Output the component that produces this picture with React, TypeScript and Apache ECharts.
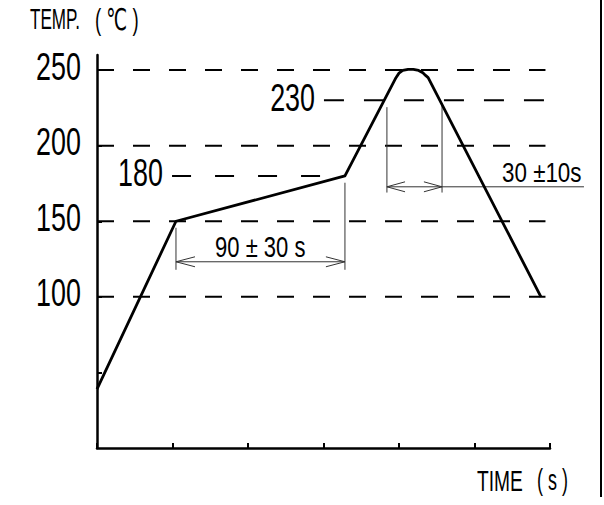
import React, { useEffect, useRef } from "react";
import * as echarts from "echarts";

// ---- data ----
const xTicks = [0, 50, 100, 150, 200, 250, 300];
const yTickValues = [50, 100, 150, 200, 250];
const yTickLabels = [100, 150, 200, 250];

// reflow profile: [time, temperature]
const profile: [number, number][] = [
  [0, 39],
  [52.3, 150],
  [164.2, 180],
  [198, 245],
  [200, 248],
  [202.5, 249.8],
  [206, 250.5],
  [209.5, 250.5],
  [213, 249.8],
  [215.8, 248.2],
  [217.6, 246.5],
  [219.3, 245],
  [294, 100],
];

// dashed reference levels: [temperature, from time, to time]
const mainLevels: [number, number, number][] = [
  [250, 0, 297],
  [200, 0, 297],
  [150, 0, 297],
  [100, 0, 297],
];
const level180: [number, number, number] = [180, 49.7, 164.2];
const level230: [number, number, number] = [230, 150.3, 297];
const levelLabels: [number, number][] = [
  [180, 43.7], // [temperature, right edge time]
  [230, 144.4],
];

// dimension 90 ± 30 s
const dim90Left: [number, number][] = [[52.3, 145.7], [52.3, 117.9]];
const dim90Right: [number, number][] = [[164.2, 175.5], [164.2, 117.9]];
const dim90Arrow: [number, number][] = [[52.3, 123.2], [164.2, 123.2]];
const dim90HeadL: [number, number][] = [[64.9, 126.5], [52.3, 123.2], [64.9, 119.9]];
const dim90HeadR: [number, number][] = [[151.6, 126.5], [164.2, 123.2], [151.6, 119.9]];

// dimension 30 ± 10 s
const dim30Left: [number, number][] = [[192, 225.5], [192, 169]];
const dim30Right: [number, number][] = [[228.5, 228], [228.5, 169]];
const dim30Arrow: [number, number][] = [[192, 172.8], [228.5, 172.8]];
const dim30Extension: [number, number][] = [[228.5, 172.8], [322.5, 172.8]];
const dim30HeadL: [number, number][] = [[204, 176.1], [192, 172.8], [204, 169.5]];
const dim30HeadR: [number, number][] = [[216.5, 176.1], [228.5, 172.8], [216.5, 169.5]];

const FONT = "'Liberation Sans', 'DejaVu Sans', sans-serif";

export default function App() {
  const ref = useRef<HTMLDivElement>(null);
  useEffect(() => {
    if (!ref.current) return;
    const chart = echarts.init(ref.current, null, { renderer: "svg" });

    const thin = (data: [number, number][]) => ({
      type: "line",
      data,
      symbol: "none",
      clip: false,
      silent: true,
      lineStyle: { color: "#333", width: 1 },
      z: 3,
    });
    const dashed = (lv: [number, number, number], dash: number[]) => ({
      type: "line",
      data: [
        [lv[1], lv[0]],
        [lv[2], lv[0]],
      ],
      symbol: "none",
      clip: false,
      silent: true,
      lineStyle: { color: "#000", width: 2, type: dash },
      z: 2,
    });

    const textEl = (
      text: string,
      x: number,
      y: number,
      size: number,
      align: string,
      scaleX = 1
    ) => ({
      type: "text",
      x,
      y,
      scaleX,
      silent: true,
      style: {
        text,
        fontFamily: FONT,
        fontSize: size,
        fill: "#000",
        align,
        verticalAlign: "middle",
      },
    });

    chart.setOption({
      animation: false,
      backgroundColor: "#fff",
      grid: { left: 97, right: 54, top: 55, bottom: 57, outerBoundsMode: "none" },
      xAxis: {
        type: "value",
        min: xTicks[0],
        max: xTicks[xTicks.length - 1],
        interval: 50,
        axisLine: { lineStyle: { color: "#000", width: 2.5 } },
        axisTick: { inside: true, length: 5, lineStyle: { color: "#000", width: 2 } },
        axisLabel: { show: false },
        splitLine: { show: false },
      },
      yAxis: {
        type: "value",
        min: 0,
        max: 260,
        interval: 50,
        axisLine: { show: true, lineStyle: { color: "#000", width: 2.5 } },
        axisTick: {
          show: true,
          inside: true,
          length: 5,
          customValues: yTickValues,
          lineStyle: { color: "#000", width: 2 },
        },
        axisLabel: { show: false },
        splitLine: { show: false },
      },
      series: [
        ...mainLevels.map((lv) => dashed(lv, [17, 19])),
        dashed(level180, [19, 24]),
        dashed(level230, [20, 20]),
        thin(dim90Left),
        thin(dim90Right),
        thin(dim90Arrow),
        thin(dim90HeadL),
        thin(dim90HeadR),
        thin(dim30Left),
        thin(dim30Right),
        thin(dim30Arrow),
        thin(dim30HeadL),
        thin(dim30HeadR),
        {
          type: "line",
          data: profile,
          symbol: "none",
          clip: false,
          silent: true,
          lineStyle: { color: "#000", width: 2.8, join: "round" },
          z: 5,
        },
      ],
    });

    // labels and the extension line placed through the axis scales
    const px = (x: number, y: number) =>
      chart.convertToPixel({ gridIndex: 0 }, [x, y]) as number[];
    const axisX = px(0, 0)[0];
    const tickLabelEls = yTickLabels.map((v) => {
      const p = px(0, v);
      return textEl(String(v), axisX - 16, p[1] - 4, 39, "right", 0.69);
    });
    const levelLabelEls = levelLabels.map(([t, xr]) => {
      const p = px(xr, t);
      return textEl(String(t), p[0], p[1] - 3, 39, "right", 0.69);
    });
    const e0 = px(dim30Extension[0][0], dim30Extension[0][1]);
    const e1 = px(dim30Extension[1][0], dim30Extension[1][1]);

    chart.setOption({
      graphic: [
        ...tickLabelEls,
        ...levelLabelEls,
        {
          type: "line",
          silent: true,
          z: 3,
          shape: { x1: e0[0], y1: e0[1], x2: e1[0], y2: e1[1] },
          style: { stroke: "#333", lineWidth: 1 },
        },
        textEl("TEMP.", 30, 19, 30, "left", 0.57),
        textEl("( ℃ )", 95, 19, 30, "left", 0.62),
        textEl("TIME", 477, 480, 30, "left", 0.64),
        textEl("( s )", 537, 480, 30, "left", 0.6),
        textEl("90 ± 30 s", 215, 247, 29, "left", 0.76),
        textEl("30 ±10s", 502, 172.5, 28, "left", 0.8),
        {
          type: "line",
          silent: true,
          shape: { x1: 601, y1: 0, x2: 601, y2: 497 },
          style: { stroke: "#000", lineWidth: 2 },
        },
      ],
    });
    return () => chart.dispose();
  }, []);
  return (
    <div
      ref={ref}
      style={{ position: "absolute", left: 0, top: 0, width: 604, height: 505 }}
    />
  );
}
